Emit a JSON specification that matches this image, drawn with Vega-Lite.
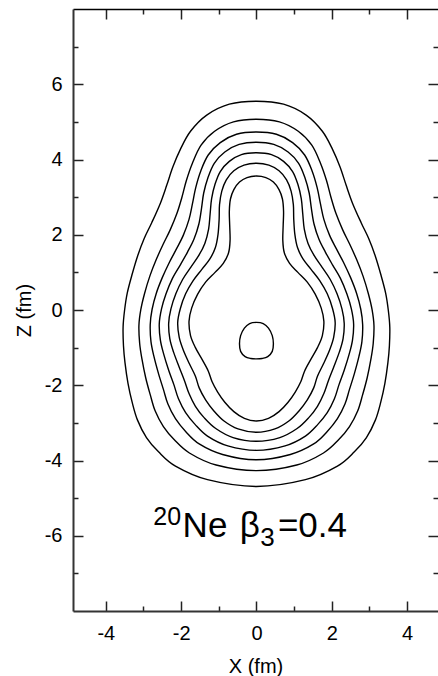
{
  "$schema": "https://vega.github.io/schema/vega-lite/v6.json",
  "width": 365,
  "height": 602,
  "autosize": {"type": "none"},
  "padding": {"left": 73, "top": 9, "right": 0, "bottom": 65},
  "background": "white",
  "config": {
    "view": {"stroke": null},
    "font": "Liberation Sans",
    "axis": {
      "grid": false,
      "labelFont": "Liberation Sans",
      "titleFont": "Liberation Sans",
      "labelFontSize": 20,
      "titleFontSize": 20,
      "titleFontWeight": "normal",
      "labelColor": "black",
      "titleColor": "black",
      "tickColor": "#222",
      "tickWidth": 1.5,
      "labelFlush": false,
      "labelOverlap": false
    }
  },
  "datasets": {
    "contours": [
      {"c":1,"i":0,"x":0,"z":5.55},{"c":1,"i":1,"x":0.72,"z":5.47},{"c":1,"i":2,"x":1.32,"z":5.18},{"c":1,"i":3,"x":1.75,"z":4.75},{"c":1,"i":4,"x":2.02,"z":4.27},{"c":1,"i":5,"x":2.22,"z":3.80},{"c":1,"i":6,"x":2.38,"z":3.32},{"c":1,"i":7,"x":2.55,"z":2.84},{"c":1,"i":8,"x":2.78,"z":2.32},{"c":1,"i":9,"x":2.98,"z":1.90},{"c":1,"i":10,"x":3.15,"z":1.45},{"c":1,"i":11,"x":3.30,"z":0.95},{"c":1,"i":12,"x":3.43,"z":0.45},{"c":1,"i":13,"x":3.50,"z":0.00},{"c":1,"i":14,"x":3.54,"z":-0.45},{"c":1,"i":15,"x":3.53,"z":-0.95},{"c":1,"i":16,"x":3.49,"z":-1.40},{"c":1,"i":17,"x":3.41,"z":-1.95},{"c":1,"i":18,"x":3.30,"z":-2.45},{"c":1,"i":19,"x":3.16,"z":-2.92},{"c":1,"i":20,"x":2.92,"z":-3.39},{"c":1,"i":21,"x":2.60,"z":-3.77},{"c":1,"i":22,"x":2.15,"z":-4.15},{"c":1,"i":23,"x":1.30,"z":-4.51},{"c":1,"i":24,"x":0,"z":-4.69},{"c":1,"i":25,"x":-1.30,"z":-4.51},{"c":1,"i":26,"x":-2.15,"z":-4.15},{"c":1,"i":27,"x":-2.60,"z":-3.77},{"c":1,"i":28,"x":-2.92,"z":-3.39},{"c":1,"i":29,"x":-3.16,"z":-2.92},{"c":1,"i":30,"x":-3.30,"z":-2.45},{"c":1,"i":31,"x":-3.41,"z":-1.95},{"c":1,"i":32,"x":-3.49,"z":-1.40},{"c":1,"i":33,"x":-3.53,"z":-0.95},{"c":1,"i":34,"x":-3.54,"z":-0.45},{"c":1,"i":35,"x":-3.50,"z":0.00},{"c":1,"i":36,"x":-3.43,"z":0.45},{"c":1,"i":37,"x":-3.30,"z":0.95},{"c":1,"i":38,"x":-3.15,"z":1.45},{"c":1,"i":39,"x":-2.98,"z":1.90},{"c":1,"i":40,"x":-2.78,"z":2.32},{"c":1,"i":41,"x":-2.55,"z":2.84},{"c":1,"i":42,"x":-2.38,"z":3.32},{"c":1,"i":43,"x":-2.22,"z":3.80},{"c":1,"i":44,"x":-2.02,"z":4.27},{"c":1,"i":45,"x":-1.75,"z":4.75},{"c":1,"i":46,"x":-1.32,"z":5.18},{"c":1,"i":47,"x":-0.72,"z":5.47},

      {"c":2,"i":0,"x":0,"z":5.07},{"c":2,"i":1,"x":0.61,"z":5.00},{"c":2,"i":2,"x":1.11,"z":4.75},{"c":2,"i":3,"x":1.47,"z":4.38},{"c":2,"i":4,"x":1.70,"z":3.90},{"c":2,"i":5,"x":1.86,"z":3.44},{"c":2,"i":6,"x":1.98,"z":2.99},{"c":2,"i":7,"x":2.11,"z":2.57},{"c":2,"i":8,"x":2.29,"z":2.13},{"c":2,"i":9,"x":2.48,"z":1.74},{"c":2,"i":10,"x":2.66,"z":1.34},{"c":2,"i":11,"x":2.83,"z":0.90},{"c":2,"i":12,"x":2.97,"z":0.44},{"c":2,"i":13,"x":3.07,"z":0.01},{"c":2,"i":14,"x":3.12,"z":-0.41},{"c":2,"i":15,"x":3.10,"z":-0.89},{"c":2,"i":16,"x":3.04,"z":-1.30},{"c":2,"i":17,"x":2.94,"z":-1.80},{"c":2,"i":18,"x":2.82,"z":-2.25},{"c":2,"i":19,"x":2.69,"z":-2.68},{"c":2,"i":20,"x":2.47,"z":-3.10},{"c":2,"i":21,"x":2.18,"z":-3.45},{"c":2,"i":22,"x":1.78,"z":-3.80},{"c":2,"i":23,"x":1.07,"z":-4.12},{"c":2,"i":24,"x":0,"z":-4.27},{"c":2,"i":25,"x":-1.07,"z":-4.12},{"c":2,"i":26,"x":-1.78,"z":-3.80},{"c":2,"i":27,"x":-2.18,"z":-3.45},{"c":2,"i":28,"x":-2.47,"z":-3.10},{"c":2,"i":29,"x":-2.69,"z":-2.68},{"c":2,"i":30,"x":-2.82,"z":-2.25},{"c":2,"i":31,"x":-2.94,"z":-1.80},{"c":2,"i":32,"x":-3.04,"z":-1.30},{"c":2,"i":33,"x":-3.10,"z":-0.89},{"c":2,"i":34,"x":-3.12,"z":-0.41},{"c":2,"i":35,"x":-3.07,"z":0.01},{"c":2,"i":36,"x":-2.97,"z":0.44},{"c":2,"i":37,"x":-2.83,"z":0.90},{"c":2,"i":38,"x":-2.66,"z":1.34},{"c":2,"i":39,"x":-2.48,"z":1.74},{"c":2,"i":40,"x":-2.29,"z":2.13},{"c":2,"i":41,"x":-2.11,"z":2.57},{"c":2,"i":42,"x":-1.98,"z":2.99},{"c":2,"i":43,"x":-1.86,"z":3.44},{"c":2,"i":44,"x":-1.70,"z":3.90},{"c":2,"i":45,"x":-1.47,"z":4.38},{"c":2,"i":46,"x":-1.11,"z":4.75},{"c":2,"i":47,"x":-0.61,"z":5.00},

      {"c":3,"i":0,"x":0,"z":4.73},{"c":3,"i":1,"x":0.53,"z":4.67},{"c":3,"i":2,"x":0.96,"z":4.45},{"c":3,"i":3,"x":1.28,"z":4.12},{"c":3,"i":4,"x":1.48,"z":3.69},{"c":3,"i":5,"x":1.61,"z":3.26},{"c":3,"i":6,"x":1.70,"z":2.82},{"c":3,"i":7,"x":1.79,"z":2.41},{"c":3,"i":8,"x":1.94,"z":1.99},{"c":3,"i":9,"x":2.12,"z":1.63},{"c":3,"i":10,"x":2.31,"z":1.27},{"c":3,"i":11,"x":2.50,"z":0.86},{"c":3,"i":12,"x":2.66,"z":0.44},{"c":3,"i":13,"x":2.77,"z":0.02},{"c":3,"i":14,"x":2.82,"z":-0.39},{"c":3,"i":15,"x":2.80,"z":-0.84},{"c":3,"i":16,"x":2.72,"z":-1.24},{"c":3,"i":17,"x":2.60,"z":-1.69},{"c":3,"i":18,"x":2.47,"z":-2.11},{"c":3,"i":19,"x":2.35,"z":-2.50},{"c":3,"i":20,"x":2.15,"z":-2.89},{"c":3,"i":21,"x":1.88,"z":-3.23},{"c":3,"i":22,"x":1.52,"z":-3.56},{"c":3,"i":23,"x":0.90,"z":-3.84},{"c":3,"i":24,"x":0,"z":-3.98},{"c":3,"i":25,"x":-0.90,"z":-3.84},{"c":3,"i":26,"x":-1.52,"z":-3.56},{"c":3,"i":27,"x":-1.88,"z":-3.23},{"c":3,"i":28,"x":-2.15,"z":-2.89},{"c":3,"i":29,"x":-2.35,"z":-2.50},{"c":3,"i":30,"x":-2.47,"z":-2.11},{"c":3,"i":31,"x":-2.60,"z":-1.69},{"c":3,"i":32,"x":-2.72,"z":-1.24},{"c":3,"i":33,"x":-2.80,"z":-0.84},{"c":3,"i":34,"x":-2.82,"z":-0.39},{"c":3,"i":35,"x":-2.77,"z":0.02},{"c":3,"i":36,"x":-2.66,"z":0.44},{"c":3,"i":37,"x":-2.50,"z":0.86},{"c":3,"i":38,"x":-2.31,"z":1.27},{"c":3,"i":39,"x":-2.12,"z":1.63},{"c":3,"i":40,"x":-1.94,"z":1.99},{"c":3,"i":41,"x":-1.79,"z":2.41},{"c":3,"i":42,"x":-1.70,"z":2.82},{"c":3,"i":43,"x":-1.61,"z":3.26},{"c":3,"i":44,"x":-1.48,"z":3.69},{"c":3,"i":45,"x":-1.28,"z":4.12},{"c":3,"i":46,"x":-0.96,"z":4.45},{"c":3,"i":47,"x":-0.53,"z":4.67},

      {"c":4,"i":0,"x":0,"z":4.46},{"c":4,"i":1,"x":0.46,"z":4.40},{"c":4,"i":2,"x":0.84,"z":4.20},{"c":4,"i":3,"x":1.12,"z":3.90},{"c":4,"i":4,"x":1.29,"z":3.51},{"c":4,"i":5,"x":1.40,"z":3.11},{"c":4,"i":6,"x":1.46,"z":2.69},{"c":4,"i":7,"x":1.53,"z":2.28},{"c":4,"i":8,"x":1.66,"z":1.88},{"c":4,"i":9,"x":1.83,"z":1.54},{"c":4,"i":10,"x":2.02,"z":1.20},{"c":4,"i":11,"x":2.23,"z":0.84},{"c":4,"i":12,"x":2.40,"z":0.43},{"c":4,"i":13,"x":2.52,"z":0.03},{"c":4,"i":14,"x":2.58,"z":-0.37},{"c":4,"i":15,"x":2.55,"z":-0.80},{"c":4,"i":16,"x":2.46,"z":-1.18},{"c":4,"i":17,"x":2.33,"z":-1.60},{"c":4,"i":18,"x":2.19,"z":-1.99},{"c":4,"i":19,"x":2.07,"z":-2.36},{"c":4,"i":20,"x":1.88,"z":-2.73},{"c":4,"i":21,"x":1.63,"z":-3.04},{"c":4,"i":22,"x":1.30,"z":-3.35},{"c":4,"i":23,"x":0.76,"z":-3.61},{"c":4,"i":24,"x":0,"z":-3.73},{"c":4,"i":25,"x":-0.76,"z":-3.61},{"c":4,"i":26,"x":-1.30,"z":-3.35},{"c":4,"i":27,"x":-1.63,"z":-3.04},{"c":4,"i":28,"x":-1.88,"z":-2.73},{"c":4,"i":29,"x":-2.07,"z":-2.36},{"c":4,"i":30,"x":-2.19,"z":-1.99},{"c":4,"i":31,"x":-2.33,"z":-1.60},{"c":4,"i":32,"x":-2.46,"z":-1.18},{"c":4,"i":33,"x":-2.55,"z":-0.80},{"c":4,"i":34,"x":-2.58,"z":-0.37},{"c":4,"i":35,"x":-2.52,"z":0.03},{"c":4,"i":36,"x":-2.40,"z":0.43},{"c":4,"i":37,"x":-2.23,"z":0.84},{"c":4,"i":38,"x":-2.02,"z":1.20},{"c":4,"i":39,"x":-1.83,"z":1.54},{"c":4,"i":40,"x":-1.66,"z":1.88},{"c":4,"i":41,"x":-1.53,"z":2.28},{"c":4,"i":42,"x":-1.46,"z":2.69},{"c":4,"i":43,"x":-1.40,"z":3.11},{"c":4,"i":44,"x":-1.29,"z":3.51},{"c":4,"i":45,"x":-1.12,"z":3.90},{"c":4,"i":46,"x":-0.84,"z":4.20},{"c":4,"i":47,"x":-0.46,"z":4.40},

      {"c":5,"i":0,"x":0,"z":4.18},{"c":5,"i":1,"x":0.40,"z":4.13},{"c":5,"i":2,"x":0.72,"z":3.95},{"c":5,"i":3,"x":0.96,"z":3.68},{"c":5,"i":4,"x":1.10,"z":3.34},{"c":5,"i":5,"x":1.19,"z":2.96},{"c":5,"i":6,"x":1.23,"z":2.55},{"c":5,"i":7,"x":1.27,"z":2.15},{"c":5,"i":8,"x":1.37,"z":1.77},{"c":5,"i":9,"x":1.53,"z":1.45},{"c":5,"i":10,"x":1.74,"z":1.14},{"c":5,"i":11,"x":1.96,"z":0.81},{"c":5,"i":12,"x":2.14,"z":0.43},{"c":5,"i":13,"x":2.27,"z":0.03},{"c":5,"i":14,"x":2.33,"z":-0.35},{"c":5,"i":15,"x":2.30,"z":-0.76},{"c":5,"i":16,"x":2.20,"z":-1.12},{"c":5,"i":17,"x":2.05,"z":-1.52},{"c":5,"i":18,"x":1.91,"z":-1.88},{"c":5,"i":19,"x":1.79,"z":-2.22},{"c":5,"i":20,"x":1.62,"z":-2.56},{"c":5,"i":21,"x":1.39,"z":-2.86},{"c":5,"i":22,"x":1.08,"z":-3.15},{"c":5,"i":23,"x":0.62,"z":-3.39},{"c":5,"i":24,"x":0,"z":-3.49},{"c":5,"i":25,"x":-0.62,"z":-3.39},{"c":5,"i":26,"x":-1.08,"z":-3.15},{"c":5,"i":27,"x":-1.39,"z":-2.86},{"c":5,"i":28,"x":-1.62,"z":-2.56},{"c":5,"i":29,"x":-1.79,"z":-2.22},{"c":5,"i":30,"x":-1.91,"z":-1.88},{"c":5,"i":31,"x":-2.05,"z":-1.52},{"c":5,"i":32,"x":-2.20,"z":-1.12},{"c":5,"i":33,"x":-2.30,"z":-0.76},{"c":5,"i":34,"x":-2.33,"z":-0.35},{"c":5,"i":35,"x":-2.27,"z":0.03},{"c":5,"i":36,"x":-2.14,"z":0.43},{"c":5,"i":37,"x":-1.96,"z":0.81},{"c":5,"i":38,"x":-1.74,"z":1.14},{"c":5,"i":39,"x":-1.53,"z":1.45},{"c":5,"i":40,"x":-1.37,"z":1.77},{"c":5,"i":41,"x":-1.27,"z":2.15},{"c":5,"i":42,"x":-1.23,"z":2.55},{"c":5,"i":43,"x":-1.19,"z":2.96},{"c":5,"i":44,"x":-1.10,"z":3.34},{"c":5,"i":45,"x":-0.96,"z":3.68},{"c":5,"i":46,"x":-0.72,"z":3.95},{"c":5,"i":47,"x":-0.40,"z":4.13},

      {"c":6,"i":0,"x":0,"z":3.90},{"c":6,"i":1,"x":0.33,"z":3.85},{"c":6,"i":2,"x":0.60,"z":3.70},{"c":6,"i":3,"x":0.80,"z":3.46},{"c":6,"i":4,"x":0.92,"z":3.16},{"c":6,"i":5,"x":0.98,"z":2.80},{"c":6,"i":6,"x":0.99,"z":2.42},{"c":6,"i":7,"x":1.02,"z":2.01},{"c":6,"i":8,"x":1.09,"z":1.66},{"c":6,"i":9,"x":1.24,"z":1.35},{"c":6,"i":10,"x":1.45,"z":1.08},{"c":6,"i":11,"x":1.68,"z":0.78},{"c":6,"i":12,"x":1.88,"z":0.43},{"c":6,"i":13,"x":2.02,"z":0.04},{"c":6,"i":14,"x":2.09,"z":-0.33},{"c":6,"i":15,"x":2.05,"z":-0.73},{"c":6,"i":16,"x":1.94,"z":-1.07},{"c":6,"i":17,"x":1.78,"z":-1.43},{"c":6,"i":18,"x":1.62,"z":-1.76},{"c":6,"i":19,"x":1.52,"z":-2.07},{"c":6,"i":20,"x":1.35,"z":-2.39},{"c":6,"i":21,"x":1.14,"z":-2.67},{"c":6,"i":22,"x":0.86,"z":-2.95},{"c":6,"i":23,"x":0.49,"z":-3.16},{"c":6,"i":24,"x":0,"z":-3.25},{"c":6,"i":25,"x":-0.49,"z":-3.16},{"c":6,"i":26,"x":-0.86,"z":-2.95},{"c":6,"i":27,"x":-1.14,"z":-2.67},{"c":6,"i":28,"x":-1.35,"z":-2.39},{"c":6,"i":29,"x":-1.52,"z":-2.07},{"c":6,"i":30,"x":-1.62,"z":-1.76},{"c":6,"i":31,"x":-1.78,"z":-1.43},{"c":6,"i":32,"x":-1.94,"z":-1.07},{"c":6,"i":33,"x":-2.05,"z":-0.73},{"c":6,"i":34,"x":-2.09,"z":-0.33},{"c":6,"i":35,"x":-2.02,"z":0.04},{"c":6,"i":36,"x":-1.88,"z":0.43},{"c":6,"i":37,"x":-1.68,"z":0.78},{"c":6,"i":38,"x":-1.45,"z":1.08},{"c":6,"i":39,"x":-1.24,"z":1.35},{"c":6,"i":40,"x":-1.09,"z":1.66},{"c":6,"i":41,"x":-1.02,"z":2.01},{"c":6,"i":42,"x":-0.99,"z":2.42},{"c":6,"i":43,"x":-0.98,"z":2.80},{"c":6,"i":44,"x":-0.92,"z":3.16},{"c":6,"i":45,"x":-0.80,"z":3.46},{"c":6,"i":46,"x":-0.60,"z":3.70},{"c":6,"i":47,"x":-0.33,"z":3.85},

      {"c":7,"i":0,"x":0,"z":3.56},{"c":7,"i":1,"x":0.25,"z":3.52},{"c":7,"i":2,"x":0.45,"z":3.40},{"c":7,"i":3,"x":0.60,"z":3.20},{"c":7,"i":4,"x":0.69,"z":2.95},{"c":7,"i":5,"x":0.72,"z":2.62},{"c":7,"i":6,"x":0.71,"z":2.25},{"c":7,"i":7,"x":0.70,"z":1.85},{"c":7,"i":8,"x":0.74,"z":1.52},{"c":7,"i":9,"x":0.88,"z":1.24},{"c":7,"i":10,"x":1.10,"z":1.00},{"c":7,"i":11,"x":1.35,"z":0.74},{"c":7,"i":12,"x":1.56,"z":0.42},{"c":7,"i":13,"x":1.72,"z":0.05},{"c":7,"i":14,"x":1.79,"z":-0.30},{"c":7,"i":15,"x":1.75,"z":-0.68},{"c":7,"i":16,"x":1.62,"z":-1.00},{"c":7,"i":17,"x":1.44,"z":-1.32},{"c":7,"i":18,"x":1.28,"z":-1.62},{"c":7,"i":19,"x":1.18,"z":-1.90},{"c":7,"i":20,"x":1.03,"z":-2.18},{"c":7,"i":21,"x":0.84,"z":-2.45},{"c":7,"i":22,"x":0.60,"z":-2.70},{"c":7,"i":23,"x":0.32,"z":-2.88},{"c":7,"i":24,"x":0,"z":-2.95},{"c":7,"i":25,"x":-0.32,"z":-2.88},{"c":7,"i":26,"x":-0.60,"z":-2.70},{"c":7,"i":27,"x":-0.84,"z":-2.45},{"c":7,"i":28,"x":-1.03,"z":-2.18},{"c":7,"i":29,"x":-1.18,"z":-1.90},{"c":7,"i":30,"x":-1.28,"z":-1.62},{"c":7,"i":31,"x":-1.44,"z":-1.32},{"c":7,"i":32,"x":-1.62,"z":-1.00},{"c":7,"i":33,"x":-1.75,"z":-0.68},{"c":7,"i":34,"x":-1.79,"z":-0.30},{"c":7,"i":35,"x":-1.72,"z":0.05},{"c":7,"i":36,"x":-1.56,"z":0.42},{"c":7,"i":37,"x":-1.35,"z":0.74},{"c":7,"i":38,"x":-1.10,"z":1.00},{"c":7,"i":39,"x":-0.88,"z":1.24},{"c":7,"i":40,"x":-0.74,"z":1.52},{"c":7,"i":41,"x":-0.70,"z":1.85},{"c":7,"i":42,"x":-0.71,"z":2.25},{"c":7,"i":43,"x":-0.72,"z":2.62},{"c":7,"i":44,"x":-0.69,"z":2.95},{"c":7,"i":45,"x":-0.60,"z":3.20},{"c":7,"i":46,"x":-0.45,"z":3.40},{"c":7,"i":47,"x":-0.25,"z":3.52},

      {"c":8,"i":0,"x":0,"z":-0.33},{"c":8,"i":1,"x":0.18,"z":-0.36},{"c":8,"i":2,"x":0.32,"z":-0.48},{"c":8,"i":3,"x":0.42,"z":-0.68},{"c":8,"i":4,"x":0.45,"z":-0.90},{"c":8,"i":5,"x":0.42,"z":-1.10},{"c":8,"i":6,"x":0.30,"z":-1.24},{"c":8,"i":7,"x":0.15,"z":-1.29},{"c":8,"i":8,"x":0,"z":-1.30},{"c":8,"i":9,"x":-0.15,"z":-1.29},{"c":8,"i":10,"x":-0.30,"z":-1.24},{"c":8,"i":11,"x":-0.42,"z":-1.10},{"c":8,"i":12,"x":-0.45,"z":-0.90},{"c":8,"i":13,"x":-0.42,"z":-0.68},{"c":8,"i":14,"x":-0.32,"z":-0.48},{"c":8,"i":15,"x":-0.18,"z":-0.36}
    ],
    "main": [
      {"t": "Ne", "x": -1.96, "z": -6.03},
      {"t": "β", "x": -0.44, "z": -6.03},
      {"t": "=0.4", "x": 0.57, "z": -6.03}
    ],
    "sup": [{"t": "20", "x": -2.74, "z": -5.71}],
    "sub": [{"t": "3", "x": 0.10, "z": -6.27}]
  },
  "resolve": {"axis": {"x": "independent", "y": "independent"}},
  "layer": [
    {
      "data": {"name": "contours"},
      "mark": {"type": "line", "interpolate": "cardinal-closed", "stroke": "black", "strokeWidth": 1.4, "clip": true},
      "encoding": {
        "x": {
          "field": "x", "type": "quantitative",
          "scale": {"domain": [-4.87, 4.82], "nice": false, "zero": false},
          "axis": {
            "orient": "bottom",
            "title": "X (fm)",
            "values": [-4, -3, -2, -1, 0, 1, 2, 3, 4],
            "labelExpr": "datum.value % 2 === 0 ? '' + datum.value : ''",
            "tickSize": {"condition": {"test": "datum.value % 2 === 0", "value": -10}, "value": -5},
            "labelPadding": 22,
            "titlePadding": 8,
            "domainColor": "#333",
            "domainWidth": 2
          }
        },
        "y": {
          "field": "z", "type": "quantitative",
          "scale": {"domain": [-8, 8], "nice": false, "zero": false},
          "axis": {
            "orient": "left",
            "title": "Z (fm)",
            "values": [-7, -6, -5, -4, -3, -2, -1, 0, 1, 2, 3, 4, 5, 6, 7],
            "labelExpr": "datum.value % 2 === 0 ? '' + datum.value : ''",
            "tickSize": {"condition": {"test": "datum.value % 2 === 0", "value": -10}, "value": -5},
            "labelPadding": 21,
            "titlePadding": 10,
            "domainColor": "#333",
            "domainWidth": 2
          }
        },
        "detail": {"field": "c", "type": "nominal"},
        "order": {"field": "i", "type": "quantitative"}
      }
    },
    {
      "data": {"name": "main"},
      "mark": {"type": "text", "align": "left", "baseline": "alphabetic", "fontSize": 35, "font": "Liberation Sans", "color": "black"},
      "encoding": {
        "x": {
          "field": "x", "type": "quantitative",
          "axis": {
            "orient": "top",
            "title": null,
            "labels": false,
            "values": [-4, -3, -2, -1, 0, 1, 2, 3, 4],
            "tickSize": {"condition": {"test": "datum.value % 2 === 0", "value": -10}, "value": -5},
            "domainColor": "black",
            "domainWidth": 1.5
          }
        },
        "y": {
          "field": "z", "type": "quantitative",
          "axis": {
            "orient": "right",
            "title": null,
            "labels": false,
            "values": [-7, -6, -5, -4, -3, -2, -1, 0, 1, 2, 3, 4, 5, 6, 7],
            "tickSize": {"condition": {"test": "datum.value % 2 === 0", "value": -10}, "value": -5},
            "domain": false
          }
        },
        "text": {"field": "t", "type": "nominal"}
      }
    },
    {
      "data": {"name": "sup"},
      "mark": {"type": "text", "align": "left", "baseline": "alphabetic", "fontSize": 25, "font": "Liberation Sans", "color": "black"},
      "encoding": {
        "x": {"field": "x", "type": "quantitative", "axis": null},
        "y": {"field": "z", "type": "quantitative", "axis": null},
        "text": {"field": "t", "type": "nominal"}
      }
    },
    {
      "data": {"name": "sub"},
      "mark": {"type": "text", "align": "left", "baseline": "alphabetic", "fontSize": 26, "font": "Liberation Sans", "color": "black"},
      "encoding": {
        "x": {"field": "x", "type": "quantitative", "axis": null},
        "y": {"field": "z", "type": "quantitative", "axis": null},
        "text": {"field": "t", "type": "nominal"}
      }
    }
  ]
}
